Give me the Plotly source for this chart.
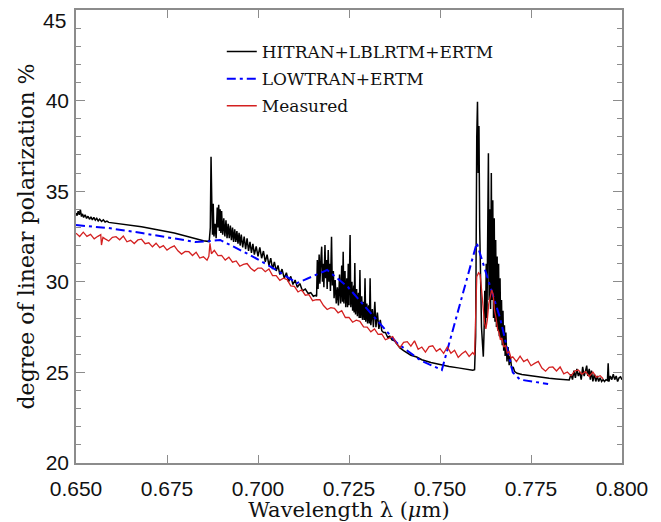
import plotly.graph_objects as go

# ---------------- data ----------------
hitran_points = [
    (0.6500, 33.80), (0.6503, 33.65), (0.6506, 33.90), (0.6509, 33.70), (0.6512, 33.98),
    (0.6515, 33.60), (0.6518, 33.75), (0.6521, 33.55), (0.6525, 33.70), (0.6529, 33.50),
    (0.6533, 33.62), (0.6537, 33.45), (0.6541, 33.58), (0.6545, 33.42), (0.6549, 33.55),
    (0.6553, 33.40), (0.6557, 33.50), (0.6561, 33.36), (0.6565, 33.46), (0.6570, 33.33),
    (0.6575, 33.42), (0.6580, 33.30), (0.6585, 33.35), (0.6590, 33.28), (0.6680, 33.04),
    (0.6770, 32.69), (0.6850, 32.27), (0.6866, 32.22),
    (0.6869, 33.0), (0.6871, 36.90), (0.6873, 34.5), (0.6875, 32.6), (0.6877, 34.3),
    (0.6879, 32.5), (0.6882, 33.2), (0.6885, 32.4), (0.6888, 34.1), (0.6890, 33.0),
    (0.6892, 34.25), (0.6894, 32.8), (0.6896, 34.0), (0.6898, 32.7), (0.6900, 33.9),
    (0.6903, 32.6), (0.6906, 33.5), (0.6909, 32.5), (0.6912, 33.4), (0.6915, 32.4),
    (0.6918, 33.2), (0.6921, 32.4), (0.6924, 33.1), (0.6927, 32.3), (0.6930, 33.0),
    (0.6933, 32.2), (0.6936, 32.9), (0.6939, 32.2), (0.6942, 32.8), (0.6945, 32.1),
    (0.6948, 32.7), (0.6951, 32.0), (0.6954, 32.6), (0.6958, 31.9), (0.6962, 32.5),
    (0.6966, 31.8), (0.6970, 32.4), (0.6974, 31.7), (0.6978, 32.2), (0.6982, 31.6),
    (0.6986, 32.1), (0.6990, 31.5), (0.6995, 31.95), (0.7000, 31.4), (0.7005, 31.9),
    (0.7010, 31.3), (0.7015, 31.7), (0.7020, 31.1), (0.7025, 31.5), (0.7030, 30.9),
    (0.7035, 31.3), (0.7040, 30.7), (0.7045, 31.1), (0.7050, 30.6), (0.7055, 30.9),
    (0.7060, 30.4), (0.7066, 30.7), (0.7072, 30.2), (0.7078, 30.5), (0.7084, 30.0),
    (0.7090, 30.3), (0.7096, 29.85), (0.7102, 30.1), (0.7108, 29.7), (0.7115, 29.9),
    (0.7122, 29.5), (0.7130, 29.6), (0.7138, 29.35), (0.7145, 29.4), (0.7152, 29.2),
    (0.7158, 29.25), (0.7161, 29.2), (0.7163, 31.2), (0.7165, 29.6), (0.7168, 31.5),
    (0.7170, 29.9), (0.7173, 31.3), (0.7175, 31.94), (0.7177, 30.0), (0.7179, 31.0),
    (0.7181, 29.7), (0.7184, 32.03), (0.7186, 30.2), (0.7188, 31.2), (0.7190, 29.6),
    (0.7193, 31.75), (0.7195, 30.0), (0.7197, 31.0), (0.7199, 29.5), (0.7202, 32.49),
    (0.7204, 29.8), (0.7207, 30.6), (0.7209, 29.1), (0.7212, 30.1), (0.7215, 28.8),
    (0.7218, 29.7), (0.7221, 28.7), (0.7224, 30.4), (0.7227, 28.8), (0.7230, 30.9),
    (0.7232, 28.9), (0.7234, 31.66), (0.7236, 28.8), (0.7239, 30.6), (0.7241, 28.6),
    (0.7244, 30.2), (0.7246, 28.6), (0.7248, 31.0), (0.7250, 28.7), (0.7253, 32.58),
    (0.7255, 28.6), (0.7258, 30.0), (0.7260, 28.4), (0.7263, 29.8), (0.7264, 28.3),
    (0.7266, 31.04), (0.7268, 28.2), (0.7271, 29.6), (0.7273, 28.1), (0.7276, 29.4),
    (0.7278, 28.0), (0.7280, 30.65), (0.7282, 28.0), (0.7285, 29.2), (0.7287, 27.9),
    (0.7290, 28.9), (0.7292, 27.9), (0.7294, 30.2), (0.7296, 27.8), (0.7299, 28.8),
    (0.7301, 27.7), (0.7304, 28.7), (0.7306, 27.7), (0.7308, 30.2), (0.7310, 27.6),
    (0.7314, 28.5), (0.7317, 27.5), (0.7321, 28.9), (0.7324, 27.5), (0.7328, 28.3),
    (0.7332, 27.4), (0.7336, 27.9), (0.7340, 27.3), (0.7345, 27.2), (0.7350, 27.2),
    (0.7356, 26.95), (0.7362, 27.0), (0.7368, 26.8), (0.7375, 26.75), (0.7381, 26.6),
    (0.7390, 26.35), (0.7400, 26.2), (0.7410, 26.05), (0.7420, 25.95), (0.7436, 25.85),
    (0.7450, 25.7), (0.7475, 25.55), (0.7500, 25.42), (0.7525, 25.33), (0.7550, 25.25),
    (0.7575, 25.18), (0.7590, 25.12), (0.7595, 25.15), (0.7598, 27.0), (0.7601, 38.0),
    (0.7603, 39.94), (0.7605, 36.0), (0.7607, 38.6), (0.7609, 33.0), (0.7611, 30.0),
    (0.7614, 27.5), (0.7617, 26.5), (0.7619, 25.87), (0.7621, 27.2), (0.7623, 29.5),
    (0.7625, 27.5), (0.7627, 31.0), (0.7629, 28.0), (0.7631, 33.5), (0.7633, 37.1),
    (0.7635, 29.0), (0.7637, 34.0), (0.7639, 28.5), (0.7641, 36.0), (0.7643, 29.0),
    (0.7645, 34.5), (0.7647, 28.0), (0.7649, 33.5), (0.7651, 27.8), (0.7653, 32.3),
    (0.7655, 27.5), (0.7657, 31.4), (0.7659, 27.3), (0.7661, 31.0), (0.7663, 27.0),
    (0.7665, 30.2), (0.7667, 26.8), (0.7669, 29.0), (0.7671, 26.5), (0.7673, 28.4),
    (0.7675, 26.2), (0.7677, 27.6), (0.7679, 25.9), (0.7681, 27.2), (0.7684, 25.6),
    (0.7687, 26.4), (0.7690, 25.4), (0.7693, 25.9), (0.7697, 25.2), (0.7701, 25.3),
    (0.7705, 25.05), (0.7712, 24.95), (0.7725, 24.88), (0.7750, 24.80), (0.7775, 24.74),
    (0.7800, 24.68), (0.7820, 24.64), (0.7840, 24.60), (0.7855, 24.58), (0.7860, 24.9),
    (0.7864, 24.6), (0.7868, 25.1), (0.7872, 24.7), (0.7876, 25.2), (0.7880, 24.8),
    (0.7884, 25.0), (0.7888, 24.6), (0.7892, 25.3), (0.7896, 24.8), (0.7900, 25.1),
    (0.7903, 25.37), (0.7906, 24.8), (0.7910, 25.2), (0.7913, 24.6), (0.7916, 25.1),
    (0.7920, 24.5), (0.7924, 24.9), (0.7928, 24.5), (0.7932, 24.8), (0.7936, 24.5),
    (0.7940, 24.7), (0.7944, 24.5), (0.7948, 24.6), (0.7952, 24.5), (0.7956, 24.6),
    (0.7960, 24.55), (0.7962, 25.5), (0.7964, 24.49), (0.7968, 24.8), (0.7972, 24.6),
    (0.7976, 24.9), (0.7980, 24.6), (0.7984, 24.8), (0.7988, 24.5), (0.7992, 24.7),
    (0.7996, 24.75), (0.8000, 24.6),
]

lowtran_points = [
    (0.6500, 33.13), (0.6588, 32.97), (0.6681, 32.69), (0.6772, 32.36), (0.6827, 32.20),
    (0.6868, 32.25), (0.6896, 32.31), (0.6978, 31.48), (0.7041, 30.76), (0.7107, 29.93),
    (0.7190, 30.65), (0.7247, 29.71), (0.7327, 27.89), (0.7382, 26.62), (0.7445, 25.68),
    (0.7505, 25.13), (0.7601, 32.14), (0.7665, 28.00), (0.7700, 25.00), (0.7720, 24.60),
    (0.7797, 24.36),
]

measured_points = [
    (0.650, 32.68), (0.651, 32.50), (0.652, 32.74), (0.653, 32.51), (0.654, 32.62),
    (0.655, 32.37), (0.656, 32.51), (0.6568, 32.60), (0.657, 32.03), (0.6574, 32.45),
    (0.658, 32.37), (0.659, 32.25), (0.660, 32.45), (0.661, 32.49), (0.662, 32.32),
    (0.663, 32.52), (0.664, 32.21), (0.665, 32.29), (0.666, 32.11), (0.667, 32.31),
    (0.668, 32.35), (0.669, 32.10), (0.670, 32.15), (0.671, 31.93), (0.672, 32.13),
    (0.673, 31.89), (0.674, 32.00), (0.675, 31.75), (0.676, 31.89), (0.677, 31.98),
    (0.678, 31.71), (0.679, 31.53), (0.680, 31.68), (0.681, 31.66), (0.682, 31.45),
    (0.683, 31.63), (0.684, 31.31), (0.685, 31.38), (0.686, 31.19), (0.6865, 31.41),
    (0.6868, 32.12), (0.6872, 31.55), (0.688, 31.74), (0.689, 31.45), (0.690, 31.46),
    (0.691, 31.20), (0.692, 31.36), (0.693, 31.08), (0.694, 31.15), (0.695, 30.86),
    (0.696, 30.96), (0.697, 31.01), (0.698, 30.75), (0.699, 30.59), (0.700, 30.76),
    (0.701, 30.76), (0.702, 30.56), (0.703, 30.71), (0.704, 30.34), (0.705, 30.34),
    (0.706, 30.08), (0.707, 30.20), (0.708, 30.12), (0.709, 29.78), (0.710, 29.75),
    (0.711, 29.44), (0.712, 29.56), (0.713, 29.26), (0.714, 29.29), (0.715, 28.96),
    (0.716, 29.02), (0.717, 29.01), (0.718, 28.69), (0.719, 28.47), (0.720, 28.57),
    (0.721, 28.53), (0.722, 28.29), (0.723, 28.41), (0.724, 28.03), (0.725, 28.04),
    (0.726, 27.77), (0.727, 27.88), (0.728, 27.82), (0.729, 27.51), (0.730, 27.50),
    (0.731, 27.24), (0.732, 27.40), (0.733, 27.10), (0.734, 27.12), (0.735, 26.80),
    (0.736, 26.89), (0.737, 26.98), (0.738, 26.60), (0.739, 26.37), (0.740, 26.66),
    (0.741, 26.70), (0.742, 26.45), (0.743, 26.74), (0.744, 26.28), (0.745, 26.40),
    (0.746, 26.12), (0.747, 26.42), (0.748, 26.47), (0.749, 26.16), (0.750, 26.31),
    (0.751, 26.05), (0.752, 26.40), (0.753, 26.06), (0.754, 26.22), (0.755, 25.83),
    (0.756, 26.03), (0.757, 26.17), (0.758, 25.88), (0.759, 26.10), (0.7595, 25.95),
    (0.7598, 28.50), (0.7601, 30.28), (0.7606, 30.50), (0.7610, 30.40), (0.7614, 29.60),
    (0.7618, 28.70), (0.7622, 27.80), (0.7626, 27.40), (0.7630, 27.90), (0.7634, 28.80),
    (0.7638, 29.20), (0.7642, 29.55), (0.7646, 29.30), (0.7650, 28.40), (0.7654, 28.00),
    (0.7658, 27.40), (0.7662, 27.20), (0.7666, 26.80), (0.7670, 26.90), (0.7675, 26.40),
    (0.7680, 26.50), (0.7685, 26.05), (0.7690, 26.15), (0.7695, 25.80), (0.770, 25.86),
    (0.771, 25.60), (0.772, 25.90), (0.773, 25.60), (0.774, 25.72), (0.775, 25.37),
    (0.776, 25.50), (0.777, 25.61), (0.778, 25.24), (0.779, 25.07), (0.780, 25.28),
    (0.781, 25.30), (0.782, 25.08), (0.783, 25.30), (0.784, 24.92), (0.785, 25.02),
    (0.786, 24.81), (0.787, 25.08), (0.788, 25.13), (0.789, 24.90), (0.790, 25.04),
    (0.791, 24.78), (0.792, 25.02), (0.793, 24.73), (0.794, 24.82), (0.7948, 24.65),
]

series_names = ["HITRAN+LBLRTM+ERTM", "LOWTRAN+ERTM", "Measured"]
x_tick_values = [0.650, 0.675, 0.700, 0.725, 0.750, 0.775, 0.800]
y_tick_values = [20, 25, 30, 35, 40, 45]

# ---------------- figure ----------------
hitran_x, hitran_y = zip(*hitran_points)
lowtran_x, lowtran_y = zip(*lowtran_points)
meas_x, meas_y = zip(*measured_points)

SERIF = "DejaVu Serif"
SANS = "Liberation Sans"
FRAME = "#8c8c8c"
TICKFONT = dict(family=SANS, size=21, color="#111111")

fig = go.Figure()
fig.add_trace(go.Scatter(x=hitran_x, y=hitran_y, mode="lines", name=series_names[0],
                         legendgroup="a", line=dict(color="black", width=1.5)))
fig.add_trace(go.Scatter(x=lowtran_x, y=lowtran_y, mode="lines", name=series_names[1],
                         legendgroup="b", line=dict(color="#0000ff", width=2, dash="9px,4px,3px,4px")))
fig.add_trace(go.Scatter(x=meas_x, y=meas_y, mode="lines", name=series_names[2],
                         legendgroup="c", line=dict(color="#d42020", width=1.3)))

axis_common = dict(
    showline=True, linecolor=FRAME, linewidth=1.5, mirror="ticks",
    ticks="inside", tickcolor=FRAME, tickwidth=1.3,
    showgrid=False, zeroline=False,
    tickfont=TICKFONT,
)

fig.update_xaxes(
    range=[0.65, 0.80], tickvals=x_tick_values, tickformat=".3f",
    ticklen=8, ticklabelstandoff=6, automargin=False,
    title=dict(text="Wavelength λ (<i>μ</i>m)", font=dict(family=SERIF, size=21, color="#111111")),
    **axis_common,
)
# the top label (45) sits a little below its tick in the reference, so it is drawn as an annotation
fig.update_yaxes(
    range=[20, 45], tickvals=y_tick_values,
    ticktext=[str(v) for v in y_tick_values[:-1]] + [""],
    ticklen=9, ticklabelstandoff=1, automargin=True,
    minor=dict(dtick=1, ticks="inside", ticklen=5, tickcolor=FRAME, tickwidth=1.2),
    title=dict(text="degree of linear polarization %", font=dict(family=SERIF, size=22, color="#111111"),
               standoff=5),
    **axis_common,
)
fig.add_annotation(x=0, xref="paper", y=y_tick_values[-1], yref="y",
                   text=str(y_tick_values[-1]), showarrow=False,
                   xanchor="right", yanchor="middle", xshift=-8, yshift=-10,
                   font=TICKFONT)

# the page body adds an 8px offset, so the figure is 8px smaller than the window
fig.update_layout(
    width=653, height=514,
    margin=dict(l=68, r=39, t=2, b=59),
    plot_bgcolor="white", paper_bgcolor="white",
    showlegend=True,
    legend=dict(x=0.267, y=0.947, xanchor="left", yanchor="top",
                bgcolor="rgba(0,0,0,0)", borderwidth=0,
                font=dict(family=SERIF, size=17, color="#111111"),
                traceorder="grouped", tracegroupgap=2),
)

fig.write_html("out.html")
